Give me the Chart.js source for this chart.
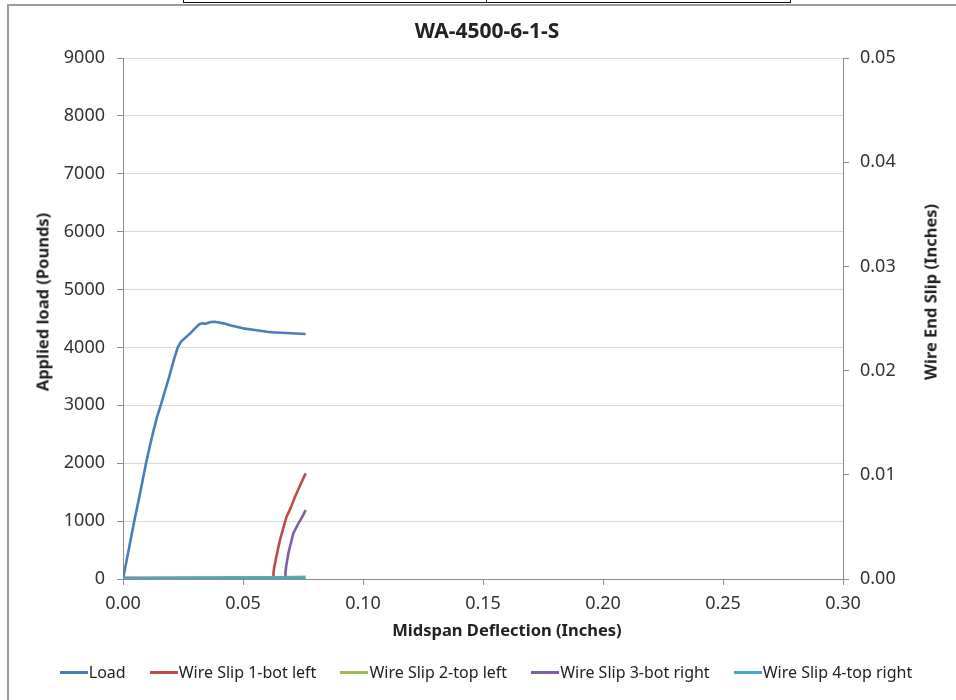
<!DOCTYPE html>
<html>
<head>
<meta charset="utf-8">
<script src="https://cdn.jsdelivr.net/npm/chart.js@4.4.1/dist/chart.umd.min.js"></script>
<style>
  html, body { margin: 0; padding: 0; background: #fff; }
  #wrap { position: relative; width: 956px; height: 700px; overflow: hidden; font-family: "Noto Sans", sans-serif; color: #222; }
  #chart-box { position: absolute; left: 0; top: 0; width: 956px; height: 700px; }
  .frame { position: absolute; left: 7px; top: 4px; width: 960px; height: 710px; border-left: 2px solid #9c9c9c; border-top: 2px solid #9c9c9c; }
  .tbl { position: absolute; top: -4px; height: 6px; border: 1.5px solid #111; border-top: none; }
  .title { position: absolute; left: 487px; top: 30px; transform: translate(-50%, -50%); font-weight: bold; font-size: 21px; white-space: nowrap; }
  .axis-title { position: absolute; font-weight: bold; font-size: 16.5px; white-space: nowrap; transform: translate(-50%, -50%); }
  .rot { transform: translate(-50%, -50%) rotate(-90deg); }
  #legend { position: absolute; left: 0; width: 956px; top: 661px; display: flex; justify-content: center; gap: 24px; font-size: 16px; padding-left: 16px; box-sizing: border-box; }
  #legend span.item { display: flex; align-items: center; white-space: nowrap; }
  #legend i { display: inline-block; width: 28px; height: 3px; margin-right: 1px; }
</style>
</head>
<body>
<div id="wrap">
  <div class="tbl" style="left:183px; width:302px;"></div>
  <div class="tbl" style="left:486px; width:304px; border-left:none;"></div>
  <div class="frame"></div>
  <div id="chart-box"><canvas id="chart"></canvas></div>
  <div class="title">WA-4500-6-1-S</div>
  <div class="axis-title rot" style="left:42px; top:302px;">Applied load (Pounds)</div>
  <div class="axis-title rot" style="left:930px; top:292px;">Wire End Slip (Inches)</div>
  <div class="axis-title" style="left:507px; top:629px;">Midspan Deflection (Inches)</div>
  <div id="legend"></div>
</div>
<script>
// === Data ===
const loadX = [0, 0.0024, 0.0047, 0.0072, 0.0096, 0.0112, 0.0127, 0.0142, 0.0157, 0.0175, 0.0193, 0.021, 0.0228, 0.0242, 0.026, 0.028, 0.030, 0.0318, 0.0328, 0.0345, 0.0365, 0.038, 0.040, 0.0418, 0.045, 0.050, 0.055, 0.060, 0.0626, 0.066, 0.070, 0.0761];
const loadY = [0, 510, 1000, 1500, 2000, 2300, 2560, 2800, 3000, 3250, 3500, 3760, 4000, 4100, 4170, 4243, 4330, 4400, 4416, 4410, 4440, 4444, 4430, 4416, 4380, 4330, 4300, 4270, 4261, 4255, 4245, 4231];

const slip1X = [0, 0.0626, 0.0627, 0.0630, 0.0636, 0.0645, 0.0654, 0.0668, 0.0682, 0.070, 0.0717, 0.074, 0.0761];
const slip1Y = [0.0001, 0.0001, 0.0006, 0.0011, 0.0018, 0.0028, 0.00374, 0.0049, 0.006, 0.0069, 0.0079, 0.0091, 0.01014];

const slip2X = [0, 0.02, 0.04, 0.06, 0.0761];
const slip2Y = [0.0001, 0.0001, 0.00015, 0.00015, 0.0002];

const slip3X = [0, 0.0675, 0.0677, 0.0681, 0.0689, 0.070, 0.071, 0.073, 0.0745, 0.0761];
const slip3Y = [0.0001, 0.0001, 0.0007, 0.0014, 0.00247, 0.0035, 0.0044, 0.0053, 0.0059, 0.0066];

const slip4X = [0, 0.02, 0.04, 0.06, 0.0761];
const slip4Y = [0.00005, 0.0001, 0.0001, 0.00012, 0.00012];

const xTicks = [0, 0.05, 0.10, 0.15, 0.20, 0.25, 0.30];
const loadTicks = [0, 1000, 2000, 3000, 4000, 5000, 6000, 7000, 8000, 9000];
const slipTicks = [0, 0.01, 0.02, 0.03, 0.04, 0.05];

const seriesNames = ["Load", "Wire Slip 1-bot left", "Wire Slip 2-top left", "Wire Slip 3-bot right", "Wire Slip 4-top right"];
const seriesColors = ["#4a7ebb", "#be4b48", "#98b954", "#7d60a0", "#46aac5"];

// === Helpers ===
const pts = (xs, ys) => xs.map((x, i) => ({ x, y: ys[i] }));
const AXIS = "#8c8c8c";
const GRID = "#d9d9d9";

Chart.defaults.font.family = "'Noto Sans', sans-serif";
Chart.defaults.color = "#333";

const lineSet = (i, data, axis) => ({
  label: seriesNames[i],
  data,
  yAxisID: axis,
  borderColor: seriesColors[i],
  backgroundColor: seriesColors[i],
  borderWidth: 2.6,
  pointRadius: 0,
  tension: 0,
  borderJoinStyle: "round",
  fill: false,
  order: 4 - i,   // later series drawn on top, like Excel
});

const datasets = [
  lineSet(0, pts(loadX, loadY), "y"),
  lineSet(1, pts(slip1X, slip1Y), "y2"),
  lineSet(2, pts(slip2X, slip2Y), "y2"),
  lineSet(3, pts(slip3X, slip3Y), "y2"),
  lineSet(4, pts(slip4X, slip4Y), "y2"),
];

new Chart(document.getElementById("chart"), {
  type: "scatter",
  data: { datasets },
  options: {
    responsive: true,
    maintainAspectRatio: false,
    animation: false,
    showLine: true,
    layout: { padding: { top: 58, left: 0, right: 0, bottom: 0 } },
    plugins: { legend: { display: false }, title: { display: false }, tooltip: { enabled: false } },
    scales: {
      x: {
        type: "linear", min: 0, max: 0.3,
        afterBuildTicks: (s) => { s.ticks = xTicks.map(v => ({ value: v })); },
        ticks: { font: { size: 18 }, padding: 8, callback: (v) => Number(v).toFixed(2), maxRotation: 0 },
        grid: { drawOnChartArea: false, drawTicks: true, tickLength: 6, tickColor: AXIS },
        border: { color: AXIS, width: 1 },
        afterFit: (s) => { s.height = 121; },
      },
      y: {
        position: "left", min: 0, max: 9000,
        afterBuildTicks: (s) => { s.ticks = loadTicks.map(v => ({ value: v })); },
        ticks: { font: { size: 18 }, padding: 12, callback: (v) => String(v) },
        grid: { color: GRID, tickColor: AXIS, tickLength: 6, lineWidth: 1 },
        border: { color: AXIS, width: 1 },
        afterFit: (s) => { s.width = 123; },
      },
      y2: {
        position: "right", min: 0, max: 0.05,
        afterBuildTicks: (s) => { s.ticks = slipTicks.map(v => ({ value: v })); },
        ticks: { font: { size: 18 }, padding: 11, callback: (v) => Number(v).toFixed(2) },
        grid: { drawOnChartArea: false, tickColor: AXIS, tickLength: 6 },
        border: { color: AXIS, width: 1 },
        afterFit: (s) => { s.width = 113; },
      },
    },
  },
});

// === Legend (HTML, below the plot) ===
const legend = document.getElementById("legend");
seriesNames.forEach((name, i) => {
  const item = document.createElement("span");
  item.className = "item";
  item.innerHTML = `<i style="background:${seriesColors[i]}"></i>${name}`;
  legend.appendChild(item);
});
</script>
</body>
</html>
